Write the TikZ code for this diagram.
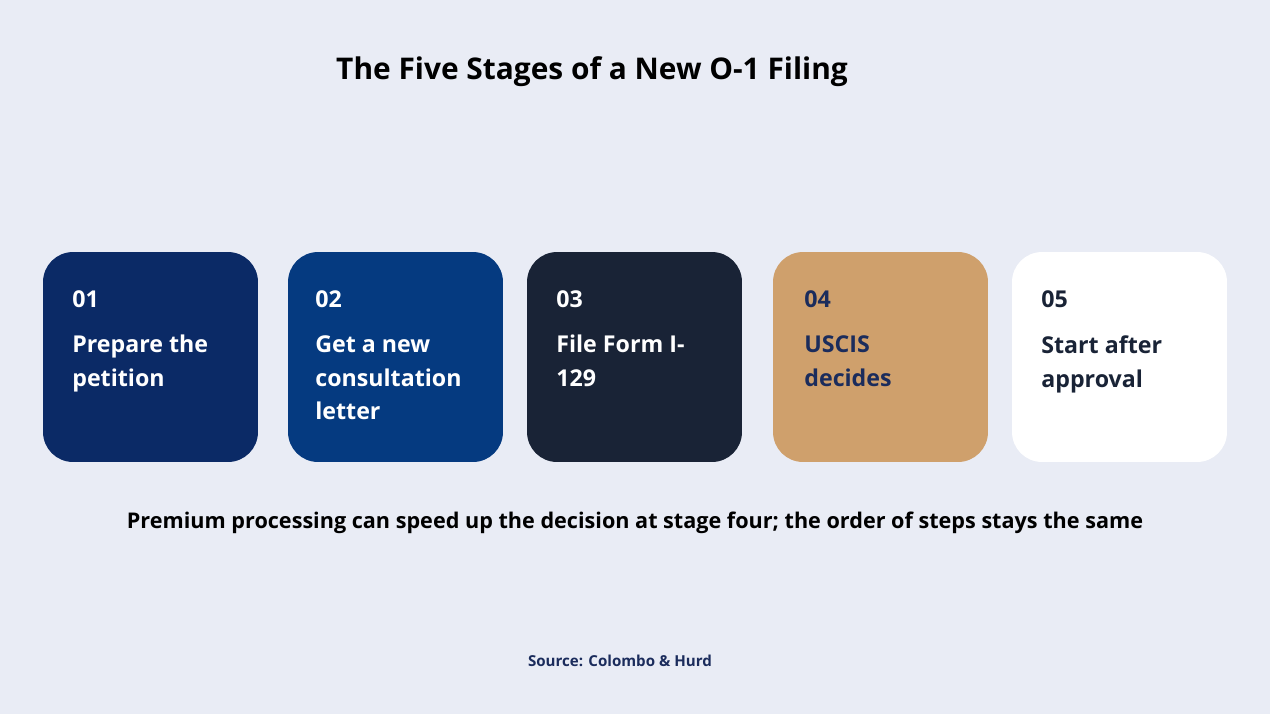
\documentclass[tikz,border=0pt]{standalone}
\usepackage{fontspec}
\setmainfont{Open Sans}
\usetikzlibrary{positioning}
\definecolor{bgcol}{HTML}{E9ECF5}
\definecolor{navyone}{HTML}{0B2A66}
\definecolor{navytwo}{HTML}{053A80}
\definecolor{inkbox}{HTML}{192336}
\definecolor{sandbox}{HTML}{CFA06C}
\definecolor{darkink}{HTML}{1B2C5C}
\tikzset{
  stage/.style={draw=none, rounded corners=0.6cm, minimum width=4.3cm, minimum height=4.2cm, inner sep=0pt},
  num/.style={anchor=west, inner sep=0pt, font=\fontsize{13.2}{16}\bfseries\selectfont},
  lbl/.style={anchor=north west, inner sep=0pt, align=left,
    font=\fontsize{13.2}{19.3}\bfseries\selectfont}
}
\begin{document}
\begin{tikzpicture}[x=0.02cm, y=-0.02cm]
    \fill[bgcol] (0, 0) rectangle (1270, 714);
    \useasboundingbox (0, 0) rectangle (1270, 714);
    \node[font=\fontsize{17}{20}\bfseries\selectfont] (title) at (592, 72) {The Five Stages of a New O-1 Filing};
    % stage boxes
    \node[stage, fill=navyone] (s1) at (150.5, 357) {};
    \node[stage, fill=navytwo] (s2) at (395.5, 357) {};
    \node[stage, fill=inkbox] (s3) at (634.5, 357) {};
    \node[stage, fill=sandbox] (s4) at (880.5, 357) {};
    \node[stage, fill=white] (s5) at (1119.5, 357) {};
    \node[num, white] (n1) at (72, 299) {01};
    \node[lbl, white] (l1) at (72, 335) {Prepare the\\petition};
    \node[num, white] (n2) at (315, 299) {02};
    \node[lbl, white] (l2) at (315, 335) {Get a new\\consultation\\letter};
    \node[num, white] (n3) at (556, 299) {03};
    \node[lbl, white] (l3) at (556, 335) {File Form I-\\129};
    \node[num, darkink] (n4) at (804, 299) {04};
    \node[lbl, darkink] (l4) at (804, 335) {USCIS\\decides};
    \node[num, inkbox] (n5) at (1041, 299) {05};
    \node[lbl, inkbox] (l5) at (1041, 335) {Start after\\approval};
    \node[font=\fontsize{12.3}{15}\bfseries\selectfont] (note) at (635, 523) {Premium processing can speed up the decision at stage four; the order of steps stays the same};
    \node[font=\fontsize{8.6}{10}\bfseries\selectfont, darkink] (src) at (620, 661) {Source: Colombo \& Hurd};
\end{tikzpicture}
\end{document}
